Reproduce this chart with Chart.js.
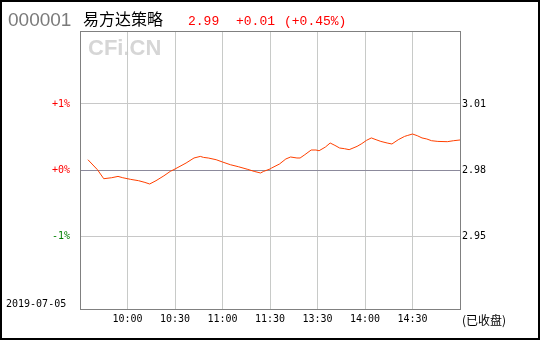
<!DOCTYPE html>
<html>
<head>
<meta charset="utf-8">
<script src="https://cdn.jsdelivr.net/npm/chart.js@4/dist/chart.umd.min.js"></script>
<style>
  html, body { margin: 0; padding: 0; background: #fff; }
  canvas { display: block; }
</style>
</head>
<body>
<canvas id="c" width="540" height="340"></canvas>
<script>
// ---- Data ----
const stockCode = '000001';
const stockName = '易方达策略';
const lastPrice = '2.99';
const change = '+0.01';
const changePct = '(+0.45%)';
const tradeDate = '2019-07-05';
const statusText = '(已收盘)';
const watermark = 'CFi.CN';

const times = ['09:35','09:41','09:45','09:50','09:54','09:57','10:02','10:07','10:11','10:14','10:18','10:23','10:27','10:30',
  '10:37','10:42','10:46','10:48','10:51','10:56','11:00','11:05','11:10','11:16','11:20','11:24','11:26','11:30',
  '13:01','13:06','13:10','13:13','13:17','13:19','13:22','13:26','13:29','13:31','13:35','13:38','13:41','13:44','13:47','13:50',
  '13:55','13:58','14:01','14:04','14:07','14:10','14:14','14:17','14:21','14:25','14:27','14:30','14:33','14:36','14:39','14:42',
  '14:46','14:52','14:56','15:00'];
const pctValues = [0.156,0.005,-0.132,-0.117,-0.097,-0.117,-0.142,-0.162,-0.188,-0.212,-0.162,-0.088,-0.021,0.015,
  0.106,0.182,0.206,0.191,0.182,0.156,0.121,0.080,0.050,0.009,-0.021,-0.045,-0.021,0.015,
  0.030,0.091,0.167,0.197,0.182,0.182,0.232,0.303,0.303,0.292,0.348,0.409,0.373,0.333,0.323,0.308,
  0.358,0.400,0.450,0.486,0.459,0.433,0.409,0.394,0.459,0.509,0.524,0.545,0.520,0.486,0.470,0.444,
  0.433,0.429,0.444,0.455];

const xTickValues = [0,30,60,90,120,150,180,210,240];
const xTickLabels = ['','10:00','10:30','11:00','11:30','13:30','14:00','14:30',''];
const yTickValues = [1,0,-1];
const leftTickLabels = ['+1%','+0%','-1%'];
const rightTickLabels = ['3.01','2.98','2.95'];
const yRange = 2.106;

// minutes of trading session since 09:30 (lunch break removed)
function toMinute(t) {
  const [h, m] = t.split(':').map(Number);
  const total = h * 60 + m;
  return total <= 690 ? total - 570 : total - 780 + 120;
}

const monoFont = { family: '"DejaVu Sans Mono", "Liberation Mono", monospace', size: 10 };

const decor = {
  id: 'decor',
  beforeDraw(chart) {
    const ctx = chart.ctx;
    ctx.save();
    ctx.fillStyle = '#fff';
    ctx.fillRect(0, 0, chart.width, chart.height);
    ctx.fillStyle = '#d6d6d6';
    ctx.font = 'bold 22px "Liberation Sans", Arial, sans-serif';
    ctx.textBaseline = 'alphabetic';
    ctx.fillText(watermark, 88, 55);
    ctx.restore();
  },
  afterDraw(chart) {
    const ctx = chart.ctx;
    const a = chart.chartArea;
    ctx.save();
    ctx.strokeStyle = '#808080';
    ctx.lineWidth = 1;
    ctx.strokeRect(Math.round(a.left) + 0.5, Math.round(a.top) + 0.5, Math.round(a.right - a.left), Math.round(a.bottom - a.top));
    ctx.strokeStyle = '#000';
    ctx.lineWidth = 2;
    ctx.strokeRect(1, 1, chart.width - 2, chart.height - 2);

    ctx.textBaseline = 'alphabetic';
    ctx.fillStyle = '#7a7a7a';
    ctx.font = '19px "Liberation Sans", Arial, sans-serif';
    ctx.fillText(stockCode, 8, 26);
    ctx.fillStyle = '#000';
    ctx.font = '16px "Noto Sans CJK SC", sans-serif';
    ctx.fillText(stockName, 83, 25);
    ctx.fillStyle = '#ff0000';
    ctx.font = '13px "Liberation Mono", "DejaVu Sans Mono", monospace';
    ctx.fillText(lastPrice, 188, 25);
    ctx.fillText(change, 236, 25);
    ctx.fillText(changePct, 284, 25);

    ctx.fillStyle = '#000';
    ctx.font = '10px "DejaVu Sans Mono", monospace';
    ctx.fillText(tradeDate, 6, 307);
    ctx.font = '12px "Noto Sans CJK SC", sans-serif';
    ctx.fillText(statusText, 462, 325);
    ctx.restore();
  }
};

new Chart(document.getElementById('c'), {
  type: 'line',
  data: {
    datasets: [{
      data: times.map((t, i) => ({ x: toMinute(t), y: pctValues[i] })),
      borderColor: '#ff4000',
      borderWidth: 1,
      pointRadius: 0,
      tension: 0,
      fill: false
    }]
  },
  options: {
    responsive: false,
    animation: false,
    layout: { padding: { top: 31, left: 0, right: 0, bottom: 0 } },
    plugins: { legend: { display: false }, tooltip: { enabled: false } },
    scales: {
      x: {
        type: 'linear', min: 0, max: 240,
        afterBuildTicks: s => { s.ticks = xTickValues.map(v => ({ value: v })); },
        afterFit: s => { s.height = 31; },
        ticks: {
          callback: v => xTickLabels[xTickValues.indexOf(v)],
          autoSkip: false, maxRotation: 0, color: '#000', font: monoFont, padding: 4
        },
        grid: { color: '#c8cac8', drawTicks: false, lineWidth: 1 },
        border: { display: false }
      },
      y: {
        position: 'left', min: -yRange, max: yRange,
        afterBuildTicks: s => { s.ticks = yTickValues.map(v => ({ value: v })); },
        afterFit: s => { s.width = 80; },
        ticks: {
          callback: v => leftTickLabels[yTickValues.indexOf(v)],
          color: c => (c.tick && c.tick.value < 0) ? '#008000' : '#ff0000',
          font: monoFont, padding: 10
        },
        grid: { color: c => (c.tick && c.tick.value === 0) ? '#8c8a9c' : '#c8c8c8', drawTicks: false },
        border: { display: false }
      },
      y2: {
        position: 'right', min: -yRange, max: yRange,
        afterBuildTicks: s => { s.ticks = yTickValues.map(v => ({ value: v })); },
        afterFit: s => { s.width = 80; },
        ticks: {
          callback: v => rightTickLabels[yTickValues.indexOf(v)],
          color: '#000', font: monoFont, padding: 2
        },
        grid: { display: false, drawTicks: false },
        border: { display: false }
      }
    }
  },
  plugins: [decor]
});
</script>
</body>
</html>
